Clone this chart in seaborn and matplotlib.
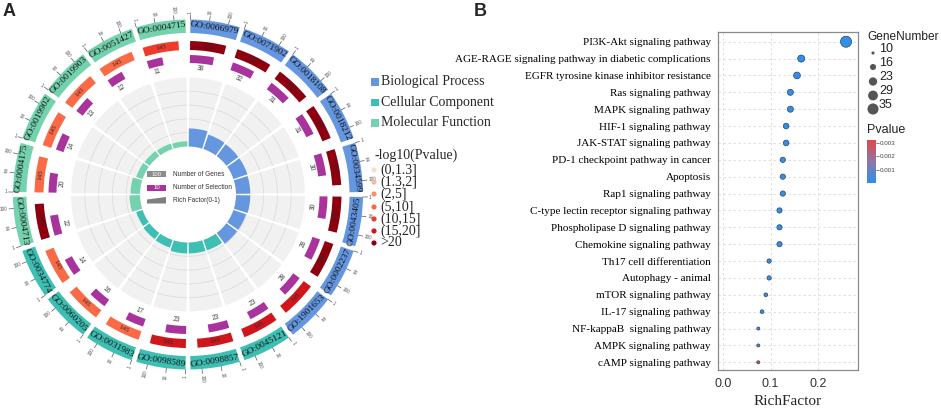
import numpy as np
import pandas as pd
import matplotlib
matplotlib.use("Agg")
import matplotlib.pyplot as plt
import seaborn as sns
from matplotlib.colors import LinearSegmentedColormap, Normalize
from matplotlib.cm import ScalarMappable
from matplotlib.patches import Polygon, Rectangle

# ---------------- data: panel A (GO circle) ----------------
go_ids = ["GO:0006979", "GO:0071902", "GO:0018108", "GO:0018212", "GO:0034599",
          "GO:0043405", "GO:0002237", "GO:1901653", "GO:0045121", "GO:0098857",
          "GO:0098589", "GO:0031983", "GO:0060205", "GO:0034774", "GO:0004713",
          "GO:0004175", "GO:0019902", "GO:0019903", "GO:0051427", "GO:0004715"]
go_class = ["Biological Process"] * 8 + ["Cellular Component"] * 6 + ["Molecular Function"] * 6
n_genes = [145] * 20
n_select = [38, 32, 31, 31, 30, 30, 28, 28, 23, 23, 23, 17, 16, 14, 22, 20, 14, 13, 12, 11]
rich_go = [0.262, 0.221, 0.214, 0.214, 0.207, 0.207, 0.193, 0.193, 0.159, 0.159,
           0.159, 0.117, 0.110, 0.097, 0.152, 0.138, 0.097, 0.090, 0.083, 0.076]
# index into the -log10(Pvalue) bins
p_bin = [6, 6, 6, 6, 6, 6, 6, 5, 5, 5, 5, 3, 3, 3, 6, 3, 3, 3, 3, 4]
p_bin_labels = ["(0,1.3]", "(1.3,2]", "(2,5]", "(5,10]", "(10,15]", "(15,20]", ">20"]

# ---------------- data: panel B (KEGG bubble) ----------------
pathways = ["PI3K-Akt signaling pathway",
            "AGE-RAGE signaling pathway in diabetic complications",
            "EGFR tyrosine kinase inhibitor resistance",
            "Ras signaling pathway", "MAPK signaling pathway",
            "HIF-1 signaling pathway", "JAK-STAT signaling pathway",
            "PD-1 checkpoint pathway in cancer", "Apoptosis",
            "Rap1 signaling pathway", "C-type lectin receptor signaling pathway",
            "Phospholipase D signaling pathway", "Chemokine signaling pathway",
            "Th17 cell differentiation", "Autophagy - animal",
            "mTOR signaling pathway", "IL-17 signaling pathway",
            "NF-kappaB  signaling pathway", "AMPK signaling pathway",
            "cAMP signaling pathway"]
rich_factor = [0.260, 0.165, 0.156, 0.142, 0.142, 0.133, 0.133, 0.126, 0.126, 0.126,
               0.119, 0.119, 0.119, 0.097, 0.097, 0.090, 0.082, 0.074, 0.074, 0.074]
gene_number = [35, 19, 18, 16, 16, 15, 15, 14, 14, 14, 14, 14, 14, 12, 12, 11, 11, 10, 10, 10]
pvalue = [0.00004, 0.0001, 0.0001, 0.00012, 0.00012, 0.00015, 0.00015, 0.0002, 0.0002, 0.0002,
          0.00025, 0.00025, 0.00025, 0.0003, 0.0003, 0.0004, 0.0004, 0.0006, 0.0006, 0.0032]
size_breaks = [10, 16, 23, 29, 35]
p_ticks = [0.001, 0.002, 0.003]

# ---------------- style ----------------
class_colors = {"Biological Process": "#6596E0",
                "Cellular Component": "#3DBFB3",
                "Molecular Function": "#74D3AE"}
bin_colors = ["#FDDDD2", "#FCB89F", "#FB8F6C", "#FA6A47", "#EE3B2B", "#D1151C", "#8E0010"]
purple = "#A9339D"
SERIF = ["Liberation Serif", "DejaVu Serif"]
SANS = ["Liberation Sans", "DejaVu Sans"]

sns.set_style("white")
plt.rcParams["font.family"] = SANS

W, H = 941, 409
fig = plt.figure(figsize=(W / 100, H / 100), dpi=100)

# ---------------- panel A ----------------
cx, cy, R = 188, 194.5, 200
axA = fig.add_axes([(cx - R) / W, (H - cy - R) / H, 2 * R / W, 2 * R / H], projection="polar")
axA.set_theta_zero_location("N")
axA.set_theta_direction(-1)
axA.set_ylim(0, R)
axA.axis("off")

n_sec = len(go_ids)
sec = 360 / n_sec
gap = 1.6
deg_per_decade = 6.3
r_in, r_span = 48, 69


def tang_rot(t):
    rot = -t
    if 90 < t < 270:
        rot += 180
    return rot


def rad_rot(t):
    rot = 90 - t
    if rot < -90:
        return rot + 180, True
    return rot, False


for i in range(n_sec):
    s = i * sec + gap / 2
    w = sec - gap
    col = class_colors[go_class[i]]
    # rich factor track: background, grid, bar
    axA.bar(np.radians(s), r_span, width=np.radians(w), bottom=r_in, align="edge",
            color="#F1F1F1", edgecolor="none", zorder=1)
    th = np.radians(np.linspace(s, s + w, 40))
    for k in [0.2, 0.4, 0.6, 0.8]:
        axA.plot(th, np.full_like(th, r_in + k * r_span), color="#DCDCDC", lw=0.6, zorder=2)
    axA.bar(np.radians(s), rich_go[i] * r_span, width=np.radians(w), bottom=r_in,
            align="edge", color=col, edgecolor="none", zorder=3)

    # number of genes (red) and number of selection (purple)
    wg = np.log10(n_genes[i]) * deg_per_decade
    axA.bar(np.radians(s), 9, width=np.radians(wg), bottom=144.5, align="edge",
            color=bin_colors[p_bin[i]], edgecolor="none", zorder=3)
    axA.text(np.radians(s + wg / 2), 149, str(n_genes[i]), rotation=tang_rot(s + wg / 2),
             rotation_mode="anchor", ha="center", va="center", fontsize=5,
             family=SERIF, color="#2a2a2a", zorder=4)
    ws = np.log10(n_select[i]) * deg_per_decade
    axA.bar(np.radians(s), 8, width=np.radians(ws), bottom=131.5, align="edge",
            color=purple, edgecolor="none", zorder=3)
    axA.text(np.radians(s + ws / 2), 126, str(n_select[i]), rotation=tang_rot(s + ws / 2),
             rotation_mode="anchor", ha="center", va="center", fontsize=4.8,
             color="#444444", zorder=4)

    # outer GO ring with log ticks
    axA.bar(np.radians(s), 13.5, width=np.radians(w), bottom=161.5, align="edge",
            color=col, edgecolor="none", zorder=3)
    axA.text(np.radians(s + w / 2), 168.3, go_ids[i], rotation=tang_rot(s + w / 2),
             rotation_mode="anchor", ha="center", va="center", fontsize=6.8,
             family=SERIF, color="#111111", zorder=4)
    for d, lab in zip([0, 1, 2], ["1", "10", "100"]):
        t = s + d * deg_per_decade
        axA.plot([np.radians(t)] * 2, [175, 179.5], color="#555555", lw=0.5, zorder=4)
        rot, flip = rad_rot(t)
        axA.text(np.radians(t), 181, lab, rotation=rot, rotation_mode="anchor",
                 ha="right" if flip else "left", va="center", fontsize=3.4,
                 color="#555555", zorder=4)

# ---------------- panel B ----------------
ax_l, ax_r, ax_t, ax_b = 717.7, 858.3, 32.3, 370
axB = fig.add_axes([ax_l / W, (H - ax_b) / H, (ax_r - ax_l) / W, (ax_b - ax_t) / H])
df = pd.DataFrame({"Pathway": pathways, "RichFactor": rich_factor,
                   "GeneNumber": gene_number, "Pvalue": pvalue})
cmap = LinearSegmentedColormap.from_list("pv", ["#2F8FEA", "#8C78A8", "#E2474B"])
pnorm = Normalize(vmin=min(pvalue), vmax=max(pvalue))
s_min, s_max = 5, 64
sns.scatterplot(data=df, x="RichFactor", y="Pathway", hue="Pvalue", palette=cmap,
                hue_norm=pnorm, size="GeneNumber", sizes=(s_min, s_max),
                size_norm=(10, 35), edgecolor="#1E3A5C", linewidth=0.45,
                legend=False, ax=axB, zorder=3)
axB.set_xlim(-0.012, 0.286)
axB.set_ylim(len(pathways) - 1 + 0.456, -0.557)
axB.set_xticks([0.0, 0.1, 0.2])
axB.set_xticklabels(["0.0", "0.1", "0.2"], fontsize=9, color="#333333", family=SANS)
for lab in axB.get_yticklabels():
    lab.set_family(SERIF)
    lab.set_fontsize(8)
    lab.set_color("black")
axB.tick_params(axis="y", length=0, pad=5)
axB.tick_params(axis="x", length=2, pad=4, color="#888888")
axB.grid(True, ls=(0, (3, 3)), color="#DADADA", lw=0.6)
axB.set_axisbelow(True)
for sp in axB.spines.values():
    sp.set_color("#8A8A8A")
    sp.set_linewidth(0.9)
axB.set_ylabel("")
axB.set_xlabel("RichFactor", fontsize=11, family=SERIF, va="center")
axB.xaxis.set_label_coords(0.5, -(401.7 - ax_b) / (ax_b - ax_t))

cax = fig.add_axes([867 / W, (H - 183) / H, 9 / W, 43 / H])
cb = fig.colorbar(ScalarMappable(norm=pnorm, cmap=cmap), cax=cax)
cb.set_ticks(p_ticks)
cb.ax.tick_params(labelsize=4.5, length=2, width=0.5, pad=1, colors="#444444")
cb.outline.set_visible(False)

# ---------------- overlay for legends and labels ----------------
ov = fig.add_axes([0, 0, 1, 1], zorder=10)
ov.set_xlim(0, W)
ov.set_ylim(H, 0)
ov.axis("off")
ov.patch.set_alpha(0)

# size legend (same mapping as seaborn)
size_s = [s_min + (v - 10) / 25 * (s_max - s_min) for v in size_breaks]
leg_y = [53, 67, 81.5, 95.5, 109]
ov.scatter([873] * len(size_breaks), leg_y, s=size_s, color="#555555", edgecolor="none")
for v, y in zip(size_breaks, leg_y):
    ov.text(879, y - 4, str(v), fontsize=9, va="center", ha="left", color="#222222")
ov.text(867, 36.5, "GeneNumber", fontsize=8.6, va="center", ha="left", color="#222222")
ov.text(867, 130, "Pvalue", fontsize=9, va="center", ha="left", color="#222222")

# class legend
for k, (name, y) in enumerate(zip(class_colors, [82, 102.5, 123])):
    ov.scatter([375], [y], marker="s", s=26, color=class_colors[name], edgecolor="none")
    ov.text(381, y, name, fontsize=10, family=SERIF, va="center", ha="left")

# -log10(Pvalue) legend
ov.text(375, 155, "-log10(Pvalue)", fontsize=10, family=SERIF, va="center", ha="left")
bin_y = [170, 182, 194, 207, 219, 231, 243]
for lab, c, y in zip(p_bin_labels, bin_colors, bin_y):
    ov.scatter([374], [y], s=14, color=c, edgecolor="none")
    ov.text(380, y, lab, fontsize=10, family=SERIF, va="center", ha="left")

# centre legend of the circle
ov.add_patch(Rectangle((147, 171), 19, 6, facecolor="#8C8C8C", edgecolor="none"))
ov.text(156.5, 174, "100", fontsize=4.3, color="white", ha="center", va="center")
ov.add_patch(Rectangle((147, 184.5), 19, 6, facecolor=purple, edgecolor="none"))
ov.text(156.5, 187.5, "10", fontsize=4.3, color="white", ha="center", va="center")
ov.add_patch(Polygon([(147, 203.5), (166, 203.5), (166, 197), (147, 199.5)],
                     closed=True, facecolor="#7F7F7F", edgecolor="none"))
for y, lab in zip([174, 187.5, 200.5], ["Number of Genes", "Number of Selection", "Rich Factor(0-1)"]):
    ov.text(173, y, lab, fontsize=4.7, color="#333333", ha="left", va="center")

# panel letters
ov.text(3, 11, "A", fontsize=13, weight="bold", ha="left", va="center")
ov.text(474, 11, "B", fontsize=13, weight="bold", ha="left", va="center")

fig.savefig("out.png", dpi=100)
